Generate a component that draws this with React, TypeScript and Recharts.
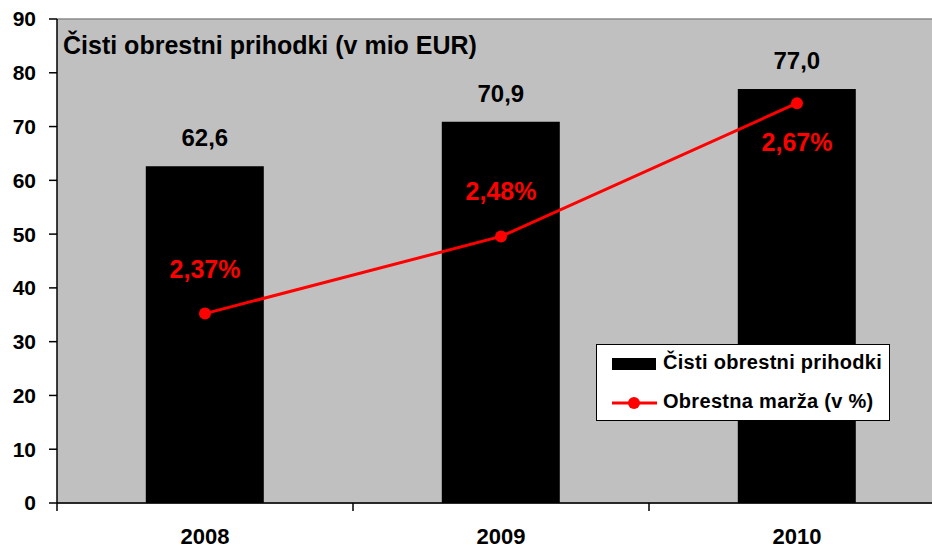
import { Bar, CartesianGrid, ComposedChart, LabelList, Line, XAxis, YAxis } from 'recharts';

const years = ['2008', '2009', '2010'];
const prihodki = [62.6, 70.9, 77.0];
const marza = [2.37, 2.48, 2.67];
const leftTicks = [0, 10, 20, 30, 40, 50, 60, 70, 80, 90];

const data = years.map((y, i) => ({ year: y, prihodki: prihodki[i], marza: marza[i] }));

const FONT = '"Liberation Sans", Arial, sans-serif';
const fmt = (v: number, d: number) => v.toFixed(d).replace('.', ',');

const XTick = (props: any) => {
  const { x, y, payload } = props;
  const off = payload?.offset ?? 0;
  return (
    <g>
      <line x1={x - off} x2={x - off} y1={y - 8} y2={y} stroke="#000" strokeWidth={1.5} />
      <text x={x} y={y + 33} textAnchor="middle" fontFamily={FONT} fontWeight="bold" fontSize={22} fill="#000">
        {payload.value}
      </text>
    </g>
  );
};

const BarValue = (props: any) => {
  const { x, y, width, value } = props;
  return (
    <text x={x + width / 2} y={y - 20} textAnchor="middle" fontFamily={FONT} fontWeight="bold" fontSize={24} fill="#000">
      {fmt(value, 1)}
    </text>
  );
};

const MarzaValue = (props: any) => {
  const { x, y, value, index } = props;
  const below = index === marza.length - 1;
  return (
    <text x={x} y={below ? y + 48 : y - 36} textAnchor="middle" fontFamily={FONT} fontWeight="bold" fontSize={25} fill="#FF0000">
      {fmt(value, 2)}%
    </text>
  );
};

const LegendBox = () => (
  <div
    style={{
      position: 'absolute',
      left: 596,
      top: 344,
      width: 292,
      height: 75,
      background: '#fff',
      border: '1px solid #000',
      fontFamily: FONT,
      fontWeight: 'bold',
      fontSize: 20,
      letterSpacing: 0.3,
      whiteSpace: 'nowrap',
    }}
  >
    <div style={{ position: 'absolute', left: 15, top: 13, width: 44, height: 12, background: '#000' }} />
    <div style={{ position: 'absolute', left: 66, top: 6 }}>Čisti obrestni prihodki</div>
    <svg style={{ position: 'absolute', left: 15, top: 50 }} width={45} height={16}>
      <line x1={0} x2={45} y1={8} y2={8} stroke="#FF0000" strokeWidth={3} />
      <circle cx={22} cy={8} r={6} fill="#FF0000" />
    </svg>
    <div style={{ position: 'absolute', left: 66, top: 45 }}>Obrestna marža (v %)</div>
  </div>
);

export default function App() {
  return (
    <div style={{ position: 'absolute', left: 0, top: 0, width: 932, height: 549, overflow: 'hidden', background: '#fff' }}>
      <ComposedChart
        width={960}
        height={549}
        data={data}
        margin={{ top: 19, right: 15, left: 0, bottom: 0 }}
        barCategoryGap="30%"
      >
        <CartesianGrid vertical={false} fill="#C0C0C0" stroke="#8a8a8a" strokeWidth={1.5} />
        <XAxis
          dataKey="year"
          height={46}
          tick={<XTick />}
          tickLine={false}
          tickSize={8}
          tickMargin={0}
          axisLine={{ stroke: '#000', strokeWidth: 1.5 }}
          interval={0}
        />
        <YAxis
          yAxisId="left"
          width={57}
          domain={[0, 90]}
          ticks={leftTicks}
          interval={0}
          tickSize={8}
          tickMargin={13}
          tickLine={{ stroke: '#000', strokeWidth: 1.5 }}
          axisLine={{ stroke: '#000', strokeWidth: 1.5 }}
          tick={{ fontFamily: FONT, fontWeight: 'bold', fontSize: 21, fill: '#000' }}
        />
        <YAxis yAxisId="right" orientation="right" hide domain={[2.1, 2.79]} />
        <Bar yAxisId="left" dataKey="prihodki" fill="#000" isAnimationActive={false}>
          <LabelList dataKey="prihodki" content={<BarValue />} />
        </Bar>
        <Line
          yAxisId="right"
          dataKey="marza"
          stroke="#FF0000"
          strokeWidth={3}
          dot={{ r: 6, fill: '#FF0000', stroke: '#FF0000', strokeWidth: 0 }}
          isAnimationActive={false}
        >
          <LabelList dataKey="marza" content={<MarzaValue />} />
        </Line>
      </ComposedChart>
      <LegendBox />
      <div
        style={{
          position: 'absolute',
          left: 63,
          top: 31,
          fontFamily: FONT,
          fontWeight: 'bold',
          fontSize: 25,
          color: '#000',
          whiteSpace: 'nowrap',
        }}
      >
        Čisti obrestni prihodki (v mio EUR)
      </div>
    </div>
  );
}
